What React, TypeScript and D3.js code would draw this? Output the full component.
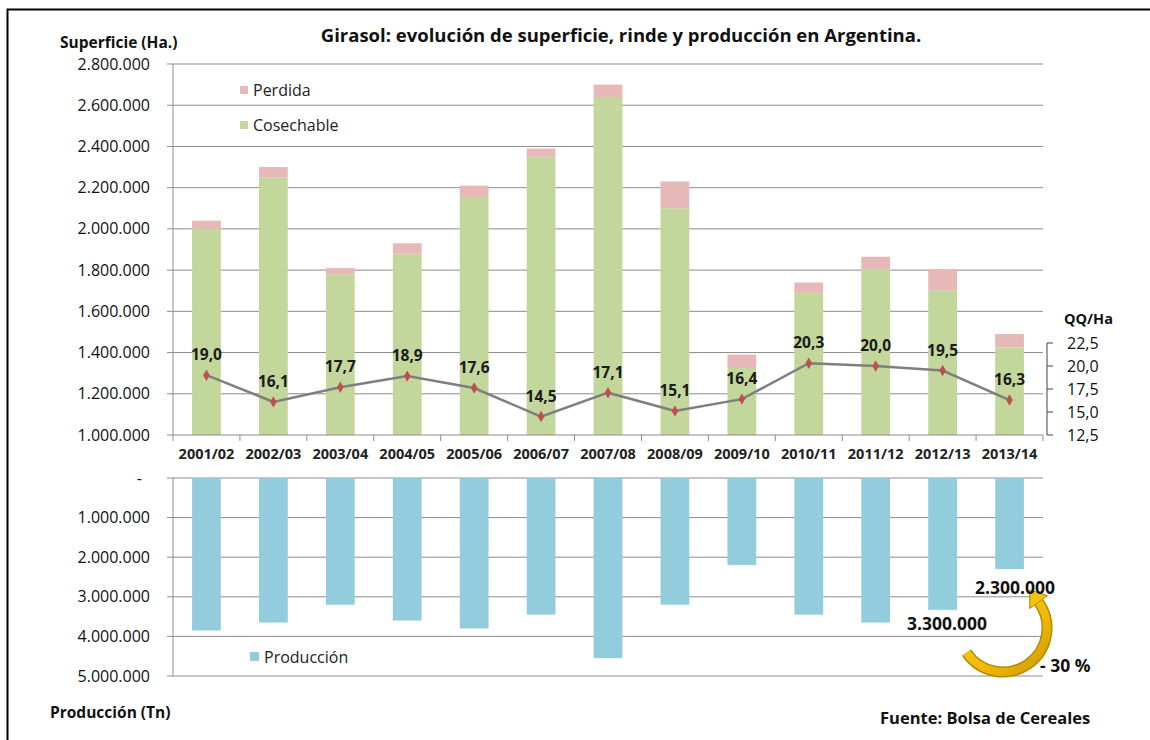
import React from 'react';
import * as d3 from 'd3';

const categories = ['2001/02', '2002/03', '2003/04', '2004/05', '2005/06', '2006/07', '2007/08', '2008/09', '2009/10', '2010/11', '2011/12', '2012/13', '2013/14'];
const cosechable = [2000000, 2250000, 1780000, 1880000, 2155000, 2350000, 2640000, 2100000, 1325000, 1690000, 1805000, 1700000, 1425000];
const perdida = [40000, 50000, 30000, 50000, 55000, 40000, 60000, 130000, 65000, 50000, 60000, 105000, 65000];
const rinde = [19.0, 16.1, 17.7, 18.9, 17.6, 14.5, 17.1, 15.1, 16.4, 20.3, 20.0, 19.5, 16.3];
const produccion = [3850000, 3650000, 3200000, 3600000, 3800000, 3450000, 4550000, 3200000, 2200000, 3450000, 3650000, 3330000, 2300000];
const supTicks = [1000000, 1200000, 1400000, 1600000, 1800000, 2000000, 2200000, 2400000, 2600000, 2800000];
const rindeTicks = [12.5, 15.0, 17.5, 20.0, 22.5];
const prodTicks = [0, 1000000, 2000000, 3000000, 4000000, 5000000];

const locale = d3.formatLocale({ decimal: ',', thousands: '.', grouping: [3], currency: ['$', ''] });
const fmtInt = locale.format(',.0f');
const fmt1 = locale.format('.1f');

const FONT = '"Open Sans", Lato, sans-serif';
const GREEN = '#c3d69b';
const PINK = '#e6b9b8';
const BLUE = '#93cddd';
const GRID = '#8c8c8c';

export default function App() {
  const left = 173;
  const right = 1043;
  const x = d3.scaleBand<string>().domain(categories).range([left, right]).paddingInner(0.57).paddingOuter(0.285);
  const yTop = d3.scaleLinear().domain([1000000, 2800000]).range([435, 64]);
  const yR = d3.scaleLinear().domain([12.5, 22.5]).range([435, 343]);
  const yBot = d3.scaleLinear().domain([0, 5000000]).range([478, 676]);
  const cx = (c: string) => (x(c) as number) + x.bandwidth() / 2;

  const line = d3.line<number>().x((_, i) => cx(categories[i])).y(d => yR(d));
  const diamond = d3.symbol().type(d3.symbolDiamond).size(38)();

  // curved arrow
  const acx = 1003, acy = 628, ar = 44;
  const a0 = (146 * Math.PI) / 180;
  const a1 = (-36 * Math.PI) / 180;
  const p = d3.path();
  p.arc(acx, acy, ar, a0, a1, true);
  const ex = acx + ar * Math.cos(a1);
  const ey = acy + ar * Math.sin(a1);
  const tx = Math.sin(a1), ty = -Math.cos(a1);
  const nx = -ty, ny = tx;
  const head = `M${ex + tx * 15},${ey + ty * 15}L${ex + nx * 11},${ey + ny * 11}L${ex - nx * 11},${ey - ny * 11}Z`;

  return (
    <svg width={1150} height={740} style={{ position: 'absolute', left: 0, top: 0, background: '#fff' }} fontFamily={FONT}>
      <defs>
        <linearGradient id="arrowGrad" x1="0" y1="0" x2="1" y2="1">
          <stop offset="0" stopColor="#f7d21e" />
          <stop offset="0.6" stopColor="#f2b705" />
          <stop offset="1" stopColor="#c99a00" />
        </linearGradient>
      </defs>
      <rect x={7.5} y={9.5} width={1160} height={760} fill="none" stroke="#000" strokeWidth={2} />

      <text x={621} y={42} textAnchor="middle" fontSize={18.5} fontWeight="bold" fill="#111">
        Girasol: evolución de superficie, rinde y producción en Argentina.
      </text>
      <text x={60} y={48} fontSize={15.5} fontWeight="bold" fill="#111">Superficie (Ha.)</text>

      {/* top grid and axis */}
      {supTicks.map(t => (
        <g key={t}>
          {t > 1000000 && <line x1={left} x2={right} y1={yTop(t)} y2={yTop(t)} stroke={GRID} strokeWidth={1} />}
          <line x1={left - 6} x2={left} y1={yTop(t)} y2={yTop(t)} stroke={GRID} />
          <text x={150} y={yTop(t) + 5.5} textAnchor="end" fontSize={16} fill="#111">{fmtInt(t)}</text>
        </g>
      ))}
      <line x1={left} x2={left} y1={yTop(2800000)} y2={435} stroke={GRID} />

      {categories.map((c, i) => (
        <g key={c}>
          <rect x={x(c)} width={x.bandwidth()} y={yTop(cosechable[i])} height={yTop(1000000) - yTop(cosechable[i])} fill={GREEN} />
          <rect x={x(c)} width={x.bandwidth()} y={yTop(cosechable[i] + perdida[i])} height={yTop(cosechable[i]) - yTop(cosechable[i] + perdida[i])} fill={PINK} />
        </g>
      ))}

      <line x1={left} x2={right} y1={435} y2={435} stroke={GRID} />
      {d3.range(categories.length + 1).map(i => {
        const xx = left + i * x.step();
        return <line key={i} x1={xx} x2={xx} y1={435} y2={441} stroke={GRID} />;
      })}
      {categories.map(c => (
        <text key={c} x={cx(c)} y={459} textAnchor="middle" fontSize={14.5} fontWeight="bold" fill="#222">{c}</text>
      ))}

      {/* rinde line */}
      <path d={line(rinde) as string} fill="none" stroke="#7f7f7f" strokeWidth={2.5} />
      {rinde.map((v, i) => (
        <g key={i}>
          <path d={diamond as string} transform={`translate(${cx(categories[i])},${yR(v)})`} fill="#c0504d" />
          <text x={cx(categories[i])} y={yR(v) - 15} textAnchor="middle" fontSize={15.5} fontWeight="bold" fill="#1a1a1a">{fmt1(v)}</text>
        </g>
      ))}

      {/* right axis */}
      <line x1={1047} x2={1047} y1={yR(22.5)} y2={yR(12.5)} stroke="#444" />
      {rindeTicks.map(t => (
        <g key={t}>
          <line x1={1047} x2={1053} y1={yR(t)} y2={yR(t)} stroke="#444" />
          <text x={1067} y={yR(t) + 5.5} fontSize={16} fill="#111">{fmt1(t)}</text>
        </g>
      ))}
      <text x={1064} y={324} fontSize={14.5} fontWeight="bold" fill="#111">QQ/Ha</text>

      {/* top legend */}
      <rect x={240} y={86} width={8} height={8} fill={PINK} />
      <text x={253} y={95.5} fontSize={16} fill="#222">Perdida</text>
      <rect x={240} y={121} width={8} height={8} fill={GREEN} />
      <text x={253} y={130.5} fontSize={16} fill="#222">Cosechable</text>

      {/* bottom panel */}
      {prodTicks.map(t => (
        <g key={t}>
          <line x1={left} x2={right} y1={yBot(t)} y2={yBot(t)} stroke={GRID} />
          <line x1={left - 6} x2={left} y1={yBot(t)} y2={yBot(t)} stroke={GRID} />
          <text x={t === 0 ? 142 : 150} y={yBot(t) + 5.5} textAnchor="end" fontSize={16} fill="#111">{t === 0 ? '-' : fmtInt(t)}</text>
        </g>
      ))}
      <line x1={left} x2={left} y1={yBot(0)} y2={yBot(5000000)} stroke={GRID} />
      {categories.map((c, i) => (
        <rect key={c} x={x(c)} width={x.bandwidth()} y={yBot(0)} height={yBot(produccion[i]) - yBot(0)} fill={BLUE} />
      ))}
      <rect x={250} y={652} width={9} height={9} fill={BLUE} />
      <text x={264} y={662.5} fontSize={16} fill="#222">Producción</text>

      <text x={50} y={718} fontSize={15.5} fontWeight="bold" fill="#111">Producción (Tn)</text>
      <text x={880} y={724} fontSize={16.5} fontWeight="bold" fill="#111">Fuente: Bolsa de Cereales</text>

      {/* annotations */}
      <path d={p.toString()} fill="none" stroke="#b58a00" strokeWidth={11} />
      <path d={p.toString()} fill="none" stroke="url(#arrowGrad)" strokeWidth={8} />
      <path d={head} fill="#f2c10a" stroke="#b58a00" strokeWidth={1} />
      <text x={975} y={594} fontSize={17.5} fontWeight="bold" fill="#111">2.300.000</text>
      <text x={907} y={630} fontSize={17.5} fontWeight="bold" fill="#111">3.300.000</text>
      <text x={1040} y={672} fontSize={17.5} fontWeight="bold" fill="#111">- 30 %</text>
    </svg>
  );
}
